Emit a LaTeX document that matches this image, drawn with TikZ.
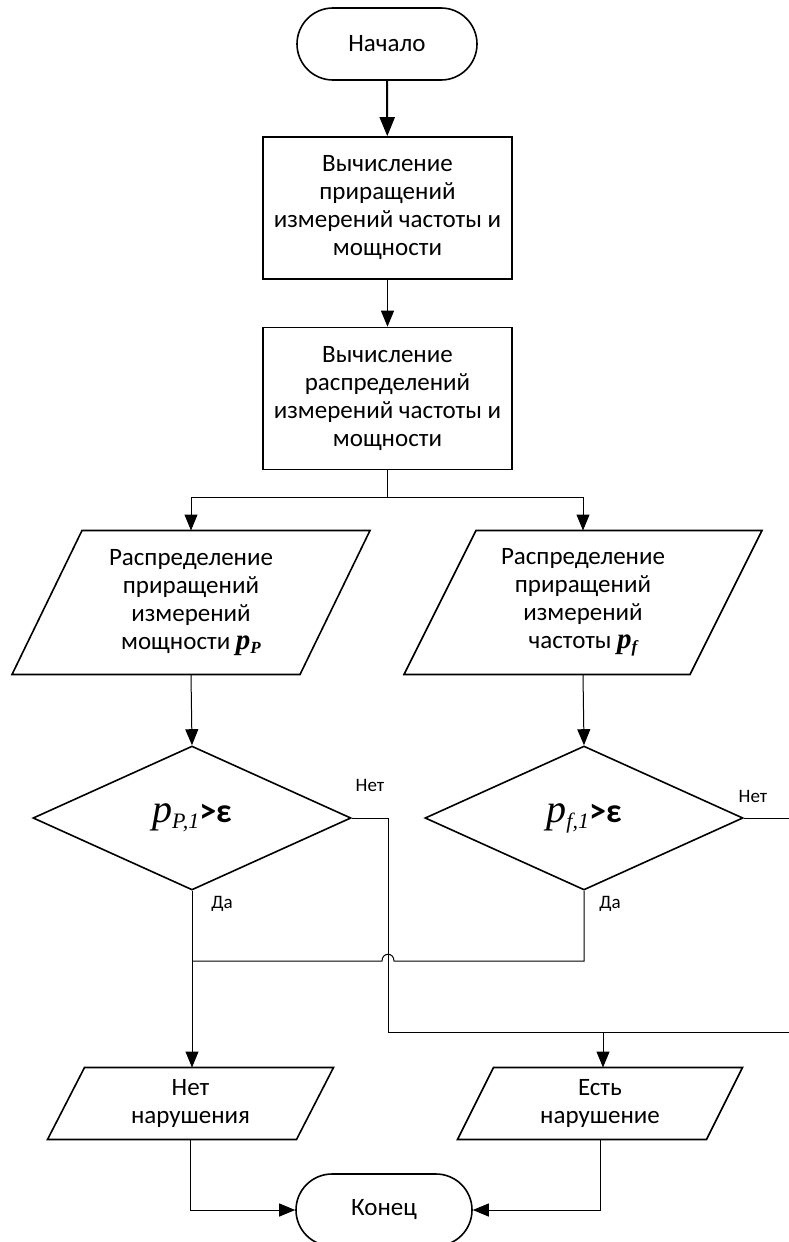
\documentclass[tikz,border=0pt]{standalone}
\usepackage{fontspec}
\setmainfont{Carlito}
\newfontfamily\tmsfont{Liberation Serif}
\usetikzlibrary{arrows.meta,shapes.geometric}

\begin{document}
\begin{tikzpicture}[x=1pt,y=-1pt,line width=1pt,
                    font=\fontsize{25}{28}\selectfont,
                    term node/.style={draw,line width=1.6pt,rounded corners=36pt,minimum width=180pt,minimum height=72pt},
                    proc node/.style={draw,line width=1.6pt,align=center,minimum width=249pt,minimum height=142pt,inner sep=0pt},
                    data node/.style n args={3}{align=center,inner sep=0pt,minimum width=#1,minimum height=#2,
                      append after command={\pgfextra{\draw[line width=1.6pt]
                        ([xshift=#3]\tikzlastnode.north west) -- ([xshift=#3]\tikzlastnode.north east)
                        -- ([xshift=-#3]\tikzlastnode.south east) -- ([xshift=-#3]\tikzlastnode.south west) -- cycle;}}},
                    cond node/.style={draw,line width=1.6pt,diamond,minimum width=318pt,minimum height=144pt,inner sep=0pt},
                    lbl/.style={font=\fontsize{19}{21}\selectfont},
                    arr/.style={-{Triangle[length=16pt,width=13pt]}}
                   ]
  \useasboundingbox (0,0) rectangle (789,1242);
  \node[term node] (start) at (387,44) {Начало};
  \node[proc node] (calc1) at (387.5,208) {Вычисление\\приращений\\измерений частоты и\\мощности};
  \node[proc node] (calc2) at (387.5,398.5) {Вычисление\\распределений\\измерений частоты и\\мощности};
  \node[data node={287pt}{143pt}{35pt}] (distP) at (191,602.5)
    {Распределение\\приращений\\измерений\\мощности {\tmsfont\bfseries\itshape\fontsize{29}{29}\selectfont p\fontsize{17}{17}\selectfont\raisebox{-4pt}{P}}};
  \node[data node={285pt}{143pt}{36pt}] (distf) at (583,602.5)
    {Распределение\\приращений\\измерений\\частоты {\tmsfont\bfseries\itshape\fontsize{29}{29}\selectfont p\fontsize{17}{17}\selectfont\raisebox{-4pt}{f}}};
  \node[cond node] (condP) at (192,818)
    {{\tmsfont\itshape\fontsize{40}{40}\selectfont p\fontsize{22}{22}\selectfont\raisebox{-6pt}{P,1}}{\bfseries\fontsize{34}{34}\selectfont>ε}};
  \node[cond node] (condf) at (584,818)
    {{\tmsfont\itshape\fontsize{40}{40}\selectfont p\fontsize{22}{22}\selectfont\raisebox{-6pt}{f,1}}{\bfseries\fontsize{34}{34}\selectfont>ε}};
  \node[data node={248pt}{71pt}{18.5pt}] (ok) at (190.5,1103.5) {Нет\\нарушения};
  \node[data node={248pt}{71pt}{18pt}] (fault) at (600,1103.5) {Есть\\нарушение};
  \node[term node,minimum width=176pt] (finish) at (384,1210) {Конец};
  % labels
  \node[lbl] (noP) at (370,785) {Нет};
  \node[lbl] (nof) at (753,796) {Нет};
  \node[lbl] (yesP) at (222,904) {Да};
  \node[lbl] (yesf) at (610,904) {Да};
  % bends
  \coordinate (split) at (387.5,497);
  \coordinate (yesjoin) at (192,961);
  \coordinate (nocorner) at (388,1032);
  \coordinate (nojoin) at (603,1032);
  % connectors
  \draw[-{Triangle[length=19pt,width=15pt]},line width=2pt] (start) -- (calc1);
  \draw[arr] (calc1) -- (calc2);
  \draw (calc2) -- (split);
  \draw[arr] (split) -| (distP.north);
  \draw[arr] (split) -| (distf.north);
  \draw[arr] (distP.south) -- (condP.north);
  \draw[arr] (distf.south) -- (condf.north);
  \draw[arr] (condP.south) -- (ok.north -| condP.south);
  \draw (condf.south) |- (394,961) .. controls (394,952) and (382,952) .. (382,961) -- (yesjoin);
  \draw (condP.east) -| (nocorner) -- (nojoin);
  \draw (condf.east) -- ++(60,0) |- (nojoin);
  \draw[arr] (nojoin) -- (fault.north -| nojoin);
  \draw[arr] (ok.south) |- (finish.west);
  \draw[arr] (fault.south) |- (finish.east);
\end{tikzpicture}
\end{document}
